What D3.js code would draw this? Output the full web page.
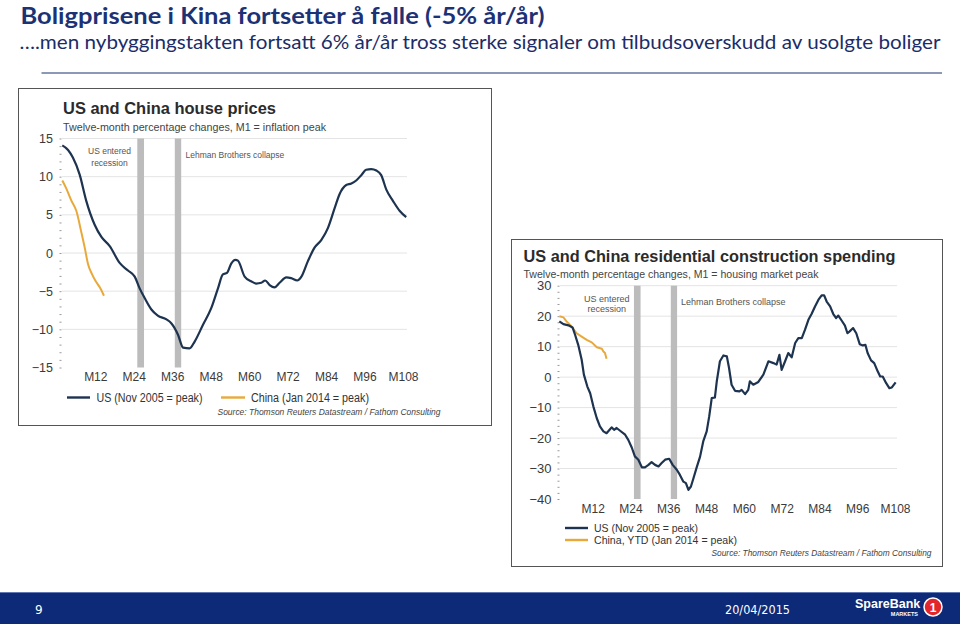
<!DOCTYPE html>
<html><head><meta charset="utf-8">
<script src="https://cdn.jsdelivr.net/npm/d3@7/dist/d3.min.js"></script>
<style>body{margin:0;background:#fff}svg{display:block}</style>
</head><body><svg id="c" width="960" height="627"></svg>
<script>
// ---------- DATA ----------
const pageTitle = "Boligprisene i Kina fortsetter å falle (-5% år/år)";
const pageSubtitle = "….men nybyggingstakten fortsatt 6% år/år tross sterke signaler om tilbudsoverskudd av usolgte boliger";
const monthTicks = [12, 24, 36, 48, 60, 72, 84, 96, 108];
const priceTicks = [-15, -10, -5, 0, 5, 10, 15];
const spendTicks = [-40, -30, -20, -10, 0, 10, 20, 30];
const eventBands = [[25.1, 27.2], [36.8, 38.8]]; // US entered recession, Lehman collapse (months)

// [month, % y/y]
const usPrices = [[1.7,14.1],[3.5,13.5],[5,12.5],[7.1,10.3],[9.2,6.8],[11.8,3.7],[13.9,2.1],[16.5,0.9],[19.6,-1.3],[22.2,-2.3],[24.3,-3.1],[25.8,-4.6],[27.4,-5.9],[29.5,-7.4],[31.5,-8.2],[34.2,-8.7],[35.7,-9.2],[37.8,-10.7],[39.4,-12.4],[41.4,-12.5],[43,-11.6],[45.6,-9.4],[48.2,-7.2],[50.3,-4.6],[51.8,-2.8],[53.1,-2.6],[54.4,-1.4],[55.7,-0.9],[56.5,-1.0],[58.6,-3.1],[60.6,-3.7],[62.2,-4.0],[63.8,-3.9],[65,-3.6],[66.4,-4.2],[67.9,-4.5],[69.5,-3.9],[71.6,-3.2],[73.1,-3.3],[75,-3.6],[76.3,-3.1],[78.3,-1.1],[80.4,0.7],[82.5,1.7],[84.6,3.3],[86.7,5.9],[88.2,7.7],[90.3,8.9],[91.9,9.1],[93.4,9.5],[95,10.2],[96.5,10.9],[98.1,11.0],[99.7,10.8],[101.2,10.2],[102.8,8.3],[104.9,6.8],[107,5.5],[109,4.7]];
const chinaPrices = [[1.7,9.5],[2.9,8.5],[4.5,6.9],[6.1,5.5],[7.6,2.8],[8.7,0.7],[9.7,-1.4],[11,-2.8],[12,-3.6],[13.4,-4.5],[14.7,-5.6]];
const usSpending = [[1.4,18.3],[2.7,17.4],[4.3,17.0],[5.6,16.3],[6.4,13.9],[7.4,10.6],[8.5,5.7],[9.2,0.8],[10.3,-3.1],[11.2,-5.3],[12.2,-9.6],[13.3,-13.5],[14.3,-16.2],[15.4,-17.8],[16.4,-18.4],[17.5,-17.1],[18,-16.5],[18.8,-17.3],[19.6,-16.7],[20.7,-17.6],[22.3,-18.9],[23.3,-20.6],[24.4,-23.1],[25.4,-26.0],[26.5,-27.1],[27.6,-29.6],[28.6,-29.6],[29.7,-28.8],[30.7,-27.9],[31.8,-28.8],[32.9,-29.3],[33.9,-28.2],[35,-27.1],[36.3,-26.8],[37.4,-28.8],[38.7,-30.4],[39.7,-32.1],[40.8,-34.3],[41.6,-34.8],[42.4,-37.0],[43.2,-35.9],[44,-33.2],[45,-29.7],[46.1,-26.1],[47.1,-21.1],[48.2,-17.8],[49,-12.9],[49.8,-6.9],[50.8,-6.7],[51.4,-1.4],[52.4,5.2],[53.5,7.1],[54.6,6.8],[55.3,3.0],[56.1,-2.5],[57.2,-4.5],[58.6,-4.7],[59.3,-4.2],[60.4,-5.6],[61.4,-4.2],[61.9,-1.4],[63,-2.5],[64.6,-1.6],[66.2,0.8],[67.8,5.2],[69.4,4.6],[70.4,4.1],[71.3,7.3],[72,2.4],[73.1,5.2],[74.1,7.9],[75.2,6.5],[76.3,11.2],[77.3,12.8],[78.4,12.8],[79.4,15.5],[80.5,18.8],[81.5,20.7],[82.6,23.2],[83.7,25.4],[84.7,26.8],[85.5,26.8],[86.3,24.8],[87.4,23.2],[88.4,20.7],[89.3,19.4],[90,20.2],[91.1,18.5],[92.1,16.9],[92.9,14.4],[93.6,15.0],[94.7,16.1],[95.7,14.4],[96.8,10.8],[97.8,10.4],[98.6,10.6],[99.3,7.9],[100.4,5.5],[101.4,4.6],[102.5,1.9],[103.3,0.2],[104.1,0.2],[105.2,-2.0],[106.2,-3.6],[107,-3.4],[108.2,-1.7]];
const chinaSpending = [[1.4,20.0],[2.7,19.6],[3.7,18.3],[5.3,16.6],[6.9,14.4],[8.5,13.3],[10.1,12.2],[11.7,11.4],[13.3,9.8],[14.9,9.3],[15.4,8.4],[15.9,7.9],[16.4,6.0]];

// ---------- STYLE ----------
const US_COL = "#1d3350", CN_COL = "#e9a93a", BAND_COL = "#bcbcbc";
const svg = d3.select("#c");
const sans = "'Liberation Sans', Arial, sans-serif";

// page header
svg.append("text").attr("x", 20.5).attr("y", 24).text(pageTitle)
  .attr("font-family", "Lato, 'Open Sans', sans-serif").attr("font-weight", 700)
  .attr("font-size", 23).attr("fill", "#1b3275")
  .attr("textLength", 524).attr("lengthAdjust", "spacingAndGlyphs");
svg.append("text").attr("x", 19.5).attr("y", 49).text(pageSubtitle)
  .attr("font-family", "Lato, 'Open Sans', sans-serif").attr("font-size", 19).attr("fill", "#1b2d68")
  .attr("textLength", 921).attr("lengthAdjust", "spacingAndGlyphs");
svg.append("line").attr("x1", 41.5).attr("x2", 942).attr("y1", 73).attr("y2", 73)
  .attr("stroke", "#6676a0").attr("stroke-width", 1.6);

function panel(o) {
  const g = svg.append("g");
  g.append("rect").attr("x", o.box[0]).attr("y", o.box[1]).attr("width", o.box[2]).attr("height", o.box[3])
    .attr("fill", "#fff").attr("stroke", "#555").attr("stroke-width", 1);
  const x = d3.scaleLinear().domain([12, 108]).range(o.xr);
  const y = d3.scaleLinear().domain(o.yd).range(o.yr);

  // gridlines
  g.selectAll("line.grid").data(o.ticks.filter(t => t !== o.yd[0])).join("line")
    .attr("x1", o.gx[0]).attr("x2", o.gx[1]).attr("y1", d => y(d)).attr("y2", d => y(d))
    .attr("stroke", "#e4e4e4").attr("stroke-width", 1);

  // event bands
  g.selectAll("rect.band").data(eventBands).join("rect")
    .attr("x", d => x(d[0])).attr("width", d => x(d[1]) - x(d[0]))
    .attr("y", y(o.yd[1])).attr("height", y(o.yd[0]) - y(o.yd[1])).attr("fill", BAND_COL);

  // y labels
  const ya = g.append("g").attr("transform", `translate(${o.labelRight + 4},0)`)
    .call(d3.axisLeft(y).tickValues(o.ticks).tickSize(0).tickPadding(4).tickFormat(d3.format("d")));
  ya.select(".domain").remove();
  ya.selectAll("text").attr("font-family", sans).attr("font-size", o.yFs).attr("fill", "#3a3a3a");

  // minor ticks
  const ma = g.append("g").attr("transform", `translate(${o.gx[0] - 2.5},0)`)
    .call(d3.axisRight(y).tickValues(d3.range(o.yd[0], o.yd[1] + 0.01, o.minorStep)).tickSize(2).tickFormat(""));
  ma.select(".domain").remove();
  ma.selectAll("line").attr("stroke", "#999");

  // x labels
  const xa = g.append("g").attr("transform", `translate(0,${o.xLabelTop})`)
    .call(d3.axisBottom(x).tickValues(monthTicks).tickSize(0).tickPadding(0).tickFormat(d => "M" + d));
  xa.select(".domain").remove();
  xa.selectAll("text").attr("font-family", sans).attr("font-size", 12).attr("fill", "#3a3a3a");

  // lines
  const line = d3.line().x(d => x(d[0])).y(d => y(d[1])).curve(o.curve);
  g.append("path").datum(o.cn).attr("d", line).attr("fill", "none").attr("stroke", CN_COL).attr("stroke-width", 2).attr("stroke-linejoin", "round");
  g.append("path").datum(o.us).attr("d", line).attr("fill", "none").attr("stroke", US_COL).attr("stroke-width", 2.2).attr("stroke-linejoin", "round");

  // titles
  g.append("text").attr("x", o.titleX).attr("y", o.titleY).text(o.title)
    .attr("font-family", sans).attr("font-weight", 700).attr("font-size", 16.5).attr("fill", "#2b2b2b")
    .attr("textLength", o.titleW).attr("lengthAdjust", "spacingAndGlyphs");
  g.append("text").attr("x", o.titleX).attr("y", o.subY).text(o.sub)
    .attr("font-family", sans).attr("font-size", 10.5).attr("fill", "#444")
    .attr("textLength", o.subW).attr("lengthAdjust", "spacingAndGlyphs");

  // annotations
  const ann = (txt, xx, yy, anchor) => g.append("text").attr("x", xx).attr("y", yy).text(txt)
    .attr("font-family", sans).attr("font-size", o.annFs).attr("fill", "#555").attr("text-anchor", anchor);
  ann("US entered", o.recX, o.recY, "middle");
  ann("recession", o.recX, o.recY + o.annGap, "middle");
  ann("Lehman Brothers collapse", o.lehX, o.lehY, "start");

  // legend
  o.legend.forEach(l => {
    g.append("line").attr("x1", l.x1).attr("x2", l.x2).attr("y1", l.y).attr("y2", l.y)
      .attr("stroke", l.col).attr("stroke-width", 2.4);
    g.append("text").attr("x", l.tx).attr("y", l.y + 4).text(l.text)
      .attr("font-family", sans).attr("font-size", o.legFs).attr("fill", "#333")
      .attr("textLength", l.tw).attr("lengthAdjust", "spacingAndGlyphs");
  });

  // source
  g.append("text").attr("x", o.srcRight).attr("y", o.srcY).attr("text-anchor", "end")
    .text("Source: Thomson Reuters Datastream / Fathom Consulting")
    .attr("font-family", sans).attr("font-style", "italic").attr("font-size", 9).attr("fill", "#444")
    .attr("textLength", o.srcW).attr("lengthAdjust", "spacingAndGlyphs");
}

panel({
  box: [18.5, 88.5, 473, 337],
  xr: [95.3, 403], yd: [-15, 15], yr: [367.5, 138.5], ticks: priceTicks, minorStep: 1, yFs: 12.5,
  gx: [62, 407], labelRight: 53, xLabelTop: 372,
  us: usPrices, cn: chinaPrices, curve: d3.curveMonotoneX,
  title: "US and China house prices", titleX: 63, titleY: 113.5, titleW: 213,
  sub: "Twelve-month percentage changes, M1 = inflation peak", subY: 131, subW: 263,
  annFs: 8.5, annGap: 11.5, recX: 109.5, recY: 154, lehX: 185.5, lehY: 158,
  legFs: 12,
  legend: [
    {x1: 67, x2: 90, y: 397.5, col: US_COL, tx: 96.5, text: "US (Nov 2005 = peak)", tw: 106},
    {x1: 221, x2: 245, y: 397.5, col: CN_COL, tx: 251, text: "China (Jan 2014 = peak)", tw: 118}
  ],
  srcRight: 440.5, srcY: 414.5, srcW: 223
});

panel({
  box: [511.5, 239.5, 431, 327],
  xr: [592.7, 895], yd: [-40, 30], yr: [499, 285.7], ticks: spendTicks, minorStep: 2, yFs: 13,
  gx: [560, 897], labelRight: 551.5, xLabelTop: 504,
  us: usSpending, cn: chinaSpending, curve: d3.curveLinear,
  title: "US and China residential construction spending", titleX: 523.5, titleY: 261.5, titleW: 372,
  sub: "Twelve-month percentage changes, M1 = housing market peak", subY: 277.5, subW: 295,
  annFs: 9, annGap: 10.5, recX: 606.7, recY: 301.5, lehX: 681, lehY: 305,
  legFs: 10.8,
  legend: [
    {x1: 565, x2: 588, y: 528, col: US_COL, tx: 594, text: "US (Nov 2005 = peak)", tw: 104},
    {x1: 565, x2: 588, y: 540, col: CN_COL, tx: 594, text: "China, YTD (Jan 2014 = peak)", tw: 143}
  ],
  srcRight: 931.5, srcY: 556, srcW: 220
});

// footer
const foot = svg.append("g");
foot.append("rect").attr("x", 0).attr("y", 592).attr("width", 960).attr("height", 32).attr("fill", "#0d2a78");
foot.append("line").attr("x1", 0).attr("x2", 960).attr("y1", 592.5).attr("y2", 592.5).attr("stroke", "#5f78b5").attr("stroke-width", 1);
foot.append("text").attr("x", 35).attr("y", 614).text("9")
  .attr("font-family", "'DejaVu Sans', Verdana, sans-serif").attr("font-size", 12).attr("fill", "#fff");
foot.append("text").attr("x", 725).attr("y", 614).text("20/04/2015")
  .attr("font-family", "'DejaVu Sans', Verdana, sans-serif").attr("font-size", 11.5).attr("fill", "#fff")
  .attr("textLength", 65).attr("lengthAdjust", "spacingAndGlyphs");
foot.append("text").attr("x", 855).attr("y", 608).text("SpareBank")
  .attr("font-family", sans).attr("font-weight", 700).attr("font-size", 12.5).attr("fill", "#fff");
foot.append("text").attr("x", 918).attr("y", 616).attr("text-anchor", "end").text("MARKETS")
  .attr("font-family", sans).attr("font-weight", 700).attr("font-size", 5.5).attr("fill", "#fff");
foot.append("circle").attr("cx", 933).attr("cy", 607).attr("r", 9).attr("fill", "#e3262b").attr("stroke", "#fff").attr("stroke-width", 1.5);
foot.append("text").attr("x", 933).attr("y", 611.5).attr("text-anchor", "middle").text("1")
  .attr("font-family", sans).attr("font-weight", 700).attr("font-size", 12).attr("fill", "#fff");
</script>
</body></html>
